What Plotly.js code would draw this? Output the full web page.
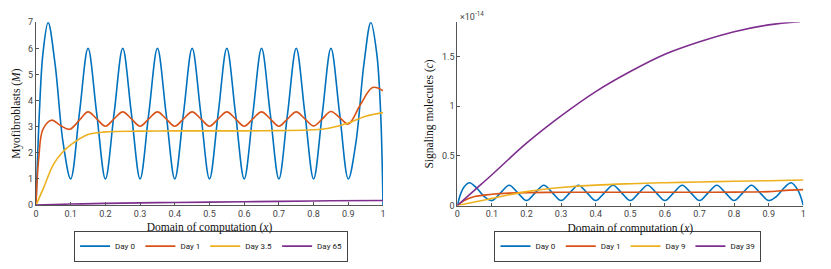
<!DOCTYPE html>
<html>
<head>
<meta charset="utf-8">
<script src="https://cdn.plot.ly/plotly-3.0.1.min.js"></script>
<style>html,body{margin:0;padding:0;background:#fff;}#chart{width:831px;height:269px;}</style>
</head>
<body>
<div id="chart"></div>
<script>
// ---------- Left panel: Myofibroblasts (M) ----------
const mDay0X = [0, 0.01, 0.02, 0.035, 0.055, 0.078, 0.1, 0.125, 0.15, 0.175, 0.2, 0.225, 0.25, 0.275, 0.3, 0.325, 0.35, 0.375, 0.4, 0.425, 0.45, 0.475, 0.5, 0.525, 0.55, 0.575, 0.6, 0.625, 0.65, 0.675, 0.7, 0.725, 0.75, 0.775, 0.8, 0.825, 0.85, 0.875, 0.9, 0.922, 0.945, 0.965, 0.982, 0.993, 1];
const mDay0Y = [0, 3.6, 5.8, 7, 5.4, 2.4, 1, 3.5, 6, 3.5, 1, 3.5, 6, 3.5, 1, 3.5, 6, 3.5, 1, 3.5, 6, 3.5, 1, 3.5, 6, 3.5, 1, 3.5, 6, 3.5, 1, 3.5, 6, 3.5, 1, 3.5, 6, 3.5, 1, 2.4, 5.4, 7, 5.8, 3.6, 0];
const mDay1X = [0, 0.008, 0.02, 0.045, 0.07, 0.097, 0.125, 0.15, 0.175, 0.2, 0.225, 0.25, 0.275, 0.3, 0.325, 0.35, 0.375, 0.4, 0.425, 0.45, 0.475, 0.5, 0.525, 0.55, 0.575, 0.6, 0.625, 0.65, 0.675, 0.7, 0.725, 0.75, 0.775, 0.8, 0.825, 0.85, 0.875, 0.9, 0.935, 0.97, 1];
const mDay1Y = [0, 1.8, 2.9, 3.25, 3.05, 2.9, 3.25, 3.57, 3.3, 3.02, 3.3, 3.57, 3.3, 3.02, 3.3, 3.57, 3.3, 3.02, 3.3, 3.57, 3.3, 3.02, 3.3, 3.57, 3.3, 3.02, 3.3, 3.57, 3.3, 3.02, 3.3, 3.57, 3.3, 3.03, 3.3, 3.58, 3.35, 3.1, 3.85, 4.5, 4.38];
const mDay35X = [0, 0.02, 0.05, 0.075, 0.1, 0.15, 0.2, 0.3, 0.4, 0.5, 0.6, 0.7, 0.8, 0.85, 0.9, 0.95, 1];
const mDay35Y = [0, 0.6, 1.55, 2.0, 2.3, 2.7, 2.8, 2.83, 2.84, 2.84, 2.84, 2.85, 2.88, 2.96, 3.14, 3.4, 3.54];
const mDay65X = [0, 0.1, 0.2, 0.35, 0.5, 0.7, 0.85, 1];
const mDay65Y = [0, 0.035, 0.06, 0.09, 0.11, 0.14, 0.16, 0.17];

// ---------- Right panel: Signaling molecules (c), units of 1e-14 ----------
const cDay0X = [0, 0.01, 0.02, 0.035, 0.055, 0.078, 0.1, 0.125, 0.15, 0.175, 0.2, 0.225, 0.25, 0.275, 0.3, 0.325, 0.35, 0.375, 0.4, 0.425, 0.45, 0.475, 0.5, 0.525, 0.55, 0.575, 0.6, 0.625, 0.65, 0.675, 0.7, 0.725, 0.75, 0.775, 0.8, 0.825, 0.85, 0.875, 0.9, 0.922, 0.945, 0.965, 0.985, 1];
const cDay0Y = [0, 0.12, 0.19, 0.23, 0.18, 0.09, 0.05, 0.128, 0.205, 0.128, 0.05, 0.128, 0.205, 0.128, 0.05, 0.128, 0.205, 0.128, 0.05, 0.128, 0.205, 0.128, 0.05, 0.128, 0.205, 0.128, 0.05, 0.128, 0.205, 0.128, 0.05, 0.128, 0.205, 0.128, 0.05, 0.128, 0.205, 0.128, 0.05, 0.09, 0.18, 0.23, 0.15, 0];
const cDay1X = [0, 0.02, 0.05, 0.1, 0.15, 0.2, 0.3, 0.4, 0.5, 0.6, 0.7, 0.8, 0.85, 0.9, 0.95, 1];
const cDay1Y = [0, 0.05, 0.09, 0.113, 0.125, 0.13, 0.133, 0.134, 0.134, 0.134, 0.134, 0.135, 0.136, 0.14, 0.153, 0.16];
const cDay9X = [0, 0.05, 0.1, 0.15, 0.2, 0.25, 0.3, 0.4, 0.5, 0.6, 0.7, 0.8, 0.9, 1];
const cDay9Y = [0, 0.035, 0.072, 0.108, 0.14, 0.164, 0.182, 0.206, 0.22, 0.23, 0.237, 0.244, 0.25, 0.257];
const cDay39X = [0, 0.05, 0.1, 0.2, 0.3, 0.4, 0.5, 0.6, 0.7, 0.8, 0.9, 0.99];
const cDay39Y = [0, 0.155, 0.31, 0.628, 0.903, 1.148, 1.35, 1.524, 1.65, 1.752, 1.82, 1.852];

const leftNames = ['Day 0', 'Day 1', 'Day 3.5', 'Day 65'];
const rightNames = ['Day 0', 'Day 1', 'Day 9', 'Day 39'];
const colors = ['#0072BD', '#D95319', '#EDB120', '#7E2F8E'];

const leftX = [mDay0X, mDay1X, mDay35X, mDay65X];
const leftY = [mDay0Y, mDay1Y, mDay35Y, mDay65Y];
const rightX = [cDay0X, cDay1X, cDay9X, cDay39X];
const rightY = [cDay0Y, cDay1Y, cDay9Y, cDay39Y];

const traces = [];
for (let i = 0; i < 4; i++) {
  traces.push({x: leftX[i], y: leftY[i], name: leftNames[i], type: 'scatter', mode: 'lines',
    line: {color: colors[i], width: 1.6, shape: 'spline', smoothing: 1}, xaxis: 'x', yaxis: 'y', legend: 'legend'});
}
for (let i = 0; i < 4; i++) {
  traces.push({x: rightX[i], y: rightY[i], name: rightNames[i], type: 'scatter', mode: 'lines',
    line: {color: colors[i], width: 1.6, shape: 'spline', smoothing: 1}, xaxis: 'x2', yaxis: 'y2', legend: 'legend2'});
}

const tickFont = {family: 'Liberation Sans Narrow, Roboto, sans-serif', size: 9, color: '#444'};
const titleFont = {family: 'Liberation Serif, DejaVu Serif, serif', size: 11.5, color: '#111'};
const axBase = {showline: true, linecolor: '#555', linewidth: 1, ticks: 'inside', ticklen: 3, tickcolor: '#555',
  showgrid: false, zeroline: false, tickfont: tickFont, automargin: false, fixedrange: true};

const legendBase = {orientation: 'h', bordercolor: '#444', borderwidth: 1, bgcolor: '#fff',
  font: {family: 'Liberation Sans Narrow, Roboto, sans-serif', size: 8, color: '#222'},
  xanchor: 'center', yanchor: 'middle', itemwidth: 30, tracegroupgap: 0};

const layout = {
  width: 831, height: 269,
  margin: {l: 0, r: 0, t: 0, b: 0},
  paper_bgcolor: '#fff', plot_bgcolor: '#fff',
  showlegend: true,
  xaxis: Object.assign({}, axBase, {domain: [0.0433, 0.4609], range: [0, 1], dtick: 0.1, tick0: 0,
    title: {text: 'Domain of computation (<i>x</i>)', font: titleFont, standoff: 5}}),
  yaxis: Object.assign({}, axBase, {domain: [0.238, 0.917], range: [0, 7], dtick: 1, tick0: 0,
    title: {text: 'Myofibroblasts (<i>M</i>)', font: titleFont, standoff: 5}}),
  xaxis2: Object.assign({}, axBase, {domain: [0.5503, 0.9667], range: [0, 1], dtick: 0.1, tick0: 0, anchor: 'y2',
    title: {text: 'Domain of computation (<i>x</i>)', font: titleFont, standoff: 5}}),
  yaxis2: Object.assign({}, axBase, {domain: [0.236, 0.917], range: [0, 1.846], tickvals: [0, 0.5, 1, 1.5], ticktext: ['0', '0.5', '1', '1.5'], anchor: 'x2',
    title: {text: 'Signaling molecules (<i>c</i>)', font: titleFont, standoff: 5}}),
  legend: Object.assign({}, legendBase, {x: 0.254, y: 0.085}),
  legend2: Object.assign({}, legendBase, {x: 0.7557, y: 0.085}),
  annotations: [{xref: 'paper', yref: 'paper', x: 0.5515, y: 0.917, yshift: -2, xanchor: 'left', yanchor: 'bottom', showarrow: false,
    text: '×10<sup>-14</sup>', font: {family: 'Liberation Sans Narrow, Roboto, sans-serif', size: 9, color: '#444'}}]
};

Plotly.newPlot('chart', traces, layout, {displayModeBar: false, staticPlot: true});
</script>
</body>
</html>
